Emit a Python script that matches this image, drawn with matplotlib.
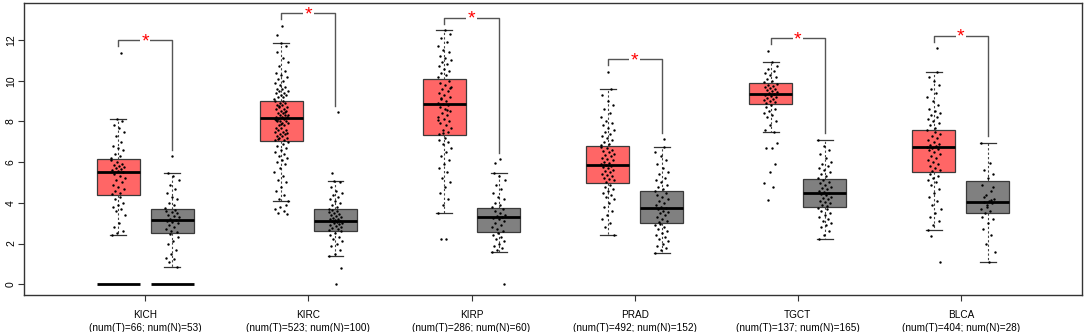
import numpy as np
import matplotlib.pyplot as plt

plt.rcParams['font.family'] = ['Liberation Sans', 'DejaVu Sans']

cancers = ['KICH', 'KIRC', 'KIRP', 'PRAD', 'TGCT', 'BLCA']
num_t = [66, 523, 286, 492, 137, 404]
num_n = [53, 100, 60, 152, 165, 28]

# box summaries: whisker low, q1, median, q3, whisker high
t_whislo = [2.42, 4.09, 3.52, 2.42, 7.50, 2.67]
t_q1 = [4.40, 7.04, 7.32, 4.96, 8.87, 5.50]
t_med = [5.52, 8.15, 8.86, 5.87, 9.36, 6.73]
t_q3 = [6.15, 9.02, 10.10, 6.81, 9.90, 7.56]
t_whishi = [8.12, 11.87, 12.47, 9.59, 10.90, 10.41]

n_whislo = [0.87, 1.39, 1.60, 1.55, 2.21, 1.11]
n_q1 = [2.50, 2.63, 2.55, 3.00, 3.81, 3.49]
n_med = [3.14, 3.11, 3.29, 3.75, 4.50, 4.06]
n_q3 = [3.70, 3.68, 3.76, 4.58, 5.17, 5.09]
n_whishi = [5.48, 5.09, 5.48, 6.76, 7.09, 6.96]

# groups that also show a flat bar at zero
zero_bar = ['KICH']

# jittered sample points
kich_t = [6.2, 6.3, 6.4, 6.6, 6.7, 6.8, 7.0, 7.3, 7.5, 7.7, 7.8, 8.0, 8.12,
          4.45, 4.5, 4.6, 4.7, 4.8, 4.9, 5.0, 5.1, 5.2, 5.3, 5.4, 5.5, 5.55, 5.6,
          5.65, 5.7, 5.75, 5.8, 5.85, 5.9, 6.0, 6.1,
          4.3, 4.2, 4.0, 3.9, 3.8, 3.7, 3.6, 3.4, 3.0, 2.8, 2.6, 2.5, 2.42, 11.37]
kich_n = [3.75, 3.9, 4.0, 4.2, 4.3, 4.5, 4.7, 4.9, 5.1, 5.3, 5.48,
          2.55, 2.6, 2.7, 2.8, 2.9, 3.0, 3.05, 3.1, 3.15, 3.2, 3.3, 3.35, 3.4,
          3.5, 3.55, 3.6, 3.65,
          2.45, 2.3, 2.1, 2.0, 1.7, 1.5, 1.3, 1.25, 1.1, 0.87, 6.29]
kirc_t = [9.1, 9.2, 9.2, 9.3, 9.3, 9.4, 9.4, 9.5, 9.5, 9.6, 9.6, 9.7, 9.8, 9.9,
          10.0, 10.1, 10.2, 10.3, 10.4, 10.5, 10.7, 10.9, 11.1, 11.4, 11.7, 11.87,
          7.1, 7.1, 7.2, 7.2, 7.3, 7.3, 7.4, 7.4, 7.5, 7.5, 7.6, 7.6, 7.7, 7.7,
          7.8, 7.8, 7.9, 7.9, 8.0, 8.0, 8.0, 8.1, 8.1, 8.1, 8.2, 8.2, 8.2, 8.3,
          8.3, 8.3, 8.4, 8.4, 8.5, 8.5, 8.6, 8.6, 8.7, 8.7, 8.8, 8.8, 8.9, 8.9,
          9.0, 9.0, 7.15, 7.45, 7.85, 8.05, 8.45, 8.75,
          7.0, 6.9, 6.8, 6.7, 6.6, 6.5, 6.4, 6.3, 6.2, 6.1, 6.0, 5.9, 5.7, 5.5,
          5.3, 5.1, 5.0, 4.8, 4.6, 4.4, 4.2, 4.09,
          12.70, 12.26, 3.9, 3.8, 3.7, 3.6, 3.5, 3.45]
kirc_n = [3.7, 3.8, 3.9, 4.0, 4.1, 4.2, 4.3, 4.4, 4.5, 4.6, 4.8, 5.0, 5.09,
          2.65, 2.7, 2.75, 2.8, 2.85, 2.9, 2.95, 3.0, 3.0, 3.05, 3.1, 3.1, 3.15,
          3.2, 3.2, 3.25, 3.3, 3.35, 3.4, 3.45, 3.5, 3.55, 3.6, 3.65,
          2.6, 2.5, 2.4, 2.3, 2.2, 2.1, 2.0, 1.9, 1.7, 1.5, 1.39,
          8.46, 5.47, 0.82, 0.0]
kirp_t = [10.2, 10.3, 10.4, 10.5, 10.6, 10.7, 10.8, 10.9, 11.0, 11.1, 11.2, 11.4,
          11.5, 11.7, 11.9, 12.1, 12.3, 12.47,
          7.4, 7.5, 7.6, 7.7, 7.8, 7.9, 8.0, 8.1, 8.2, 8.3, 8.4, 8.5, 8.6, 8.7,
          8.8, 8.85, 8.9, 9.0, 9.1, 9.2, 9.3, 9.4, 9.5, 9.6, 9.7, 9.8, 9.9, 10.0,
          7.45, 8.05, 8.55, 9.15, 9.65,
          7.2, 7.1, 7.0, 6.9, 6.7, 6.5, 6.3, 6.1, 5.9, 5.7, 5.5, 5.2, 5.0, 4.8,
          4.5, 4.2, 3.9, 3.52, 2.24, 2.24]
kirp_n = [3.8, 3.9, 4.0, 4.2, 4.3, 4.5, 4.7, 4.9, 5.1, 5.3, 5.48,
          2.6, 2.7, 2.8, 2.9, 3.0, 3.1, 3.2, 3.25, 3.3, 3.35, 3.4, 3.5, 3.6, 3.7,
          2.5, 2.4, 2.3, 2.2, 2.1, 2.0, 1.9, 1.8, 1.7, 1.6,
          6.15, 5.96, 0.0]
prad_t = [6.85, 6.9, 7.0, 7.1, 7.2, 7.3, 7.4, 7.5, 7.6, 7.7, 7.8, 7.9, 8.0, 8.2,
          8.4, 8.6, 8.8, 9.0, 9.3, 9.59,
          5.0, 5.1, 5.15, 5.2, 5.3, 5.35, 5.4, 5.5, 5.55, 5.6, 5.7, 5.75, 5.8,
          5.85, 5.9, 5.95, 6.0, 6.1, 6.15, 6.2, 6.3, 6.35, 6.4, 6.5, 6.55, 6.6,
          6.7, 6.75,
          4.9, 4.8, 4.7, 4.6, 4.5, 4.4, 4.3, 4.2, 4.0, 3.8, 3.6, 3.4, 3.2, 3.0,
          2.8, 2.42, 10.43]
prad_n = [4.6, 4.7, 4.8, 4.9, 5.0, 5.1, 5.2, 5.4, 5.5, 5.7, 5.9, 6.1, 6.3, 6.5,
          6.76,
          3.05, 3.1, 3.2, 3.3, 3.4, 3.5, 3.55, 3.6, 3.7, 3.75, 3.8, 3.9, 4.0, 4.1,
          4.2, 4.3, 4.4, 4.5,
          2.95, 2.9, 2.8, 2.7, 2.6, 2.5, 2.4, 2.3, 2.2, 2.1, 2.0, 1.9, 1.8, 1.7,
          1.55, 7.12]
tgct_t = [9.95, 10.0, 10.1, 10.2, 10.3, 10.4, 10.5, 10.6, 10.7, 10.9,
          8.9, 8.95, 9.0, 9.05, 9.1, 9.15, 9.2, 9.25, 9.3, 9.35, 9.4, 9.45, 9.5,
          9.55, 9.6, 9.65, 9.7, 9.75, 9.8, 9.85,
          8.8, 8.7, 8.6, 8.5, 8.4, 8.3, 8.2, 8.0, 7.8, 7.6, 7.5,
          11.47, 6.96, 6.71, 6.71, 5.91, 5.50, 4.96, 4.79, 4.12]
tgct_n = [5.2, 5.3, 5.4, 5.5, 5.6, 5.7, 5.8, 5.9, 6.0, 6.2, 6.4, 6.6, 6.8, 7.09,
          3.85, 3.9, 4.0, 4.05, 4.1, 4.2, 4.25, 4.3, 4.4, 4.45, 4.5, 4.55, 4.6,
          4.7, 4.75, 4.8, 4.9, 4.95, 5.0, 5.1,
          3.75, 3.7, 3.6, 3.5, 3.4, 3.3, 3.2, 3.1, 3.0, 2.9, 2.8, 2.6, 2.4, 2.21]
blca_t = [7.6, 7.7, 7.8, 7.9, 8.0, 8.1, 8.2, 8.3, 8.4, 8.5, 8.6, 8.8, 9.0, 9.2,
          9.4, 9.6, 9.8, 10.0, 10.2, 10.41,
          5.55, 5.6, 5.7, 5.8, 5.9, 6.0, 6.1, 6.2, 6.3, 6.4, 6.5, 6.6, 6.65, 6.7,
          6.75, 6.8, 6.85, 6.9, 7.0, 7.1, 7.2, 7.3, 7.4, 7.5,
          5.4, 5.3, 5.2, 5.1, 5.0, 4.9, 4.7, 4.5, 4.3, 4.1, 3.9, 3.7, 3.5, 3.3,
          3.1, 2.9, 2.67, 11.59, 2.37, 1.11]
blca_n = [6.96, 5.95, 5.6, 5.4, 5.2, 4.9, 4.6, 4.4, 4.2, 4.1, 4.05, 4.0, 3.9,
          3.7, 3.6, 3.5, 3.2, 3.0, 2.7, 2.4, 2.0, 1.6, 1.11, 4.3, 4.8, 3.8, 3.3,
          4.15]

tumor_pts = [kich_t, kirc_t, kirp_t, prad_t, tgct_t, blca_t]
normal_pts = [kich_n, kirc_n, kirp_n, prad_n, tgct_n, blca_n]

red = '#FF6666'
grey = '#808080'
off = 0.166
bw = 0.264

fig = plt.figure(figsize=(10.84, 3.32), dpi=100)
ax = fig.add_axes([0.0224, 0.1114, 0.9755, 0.8796])

def stats(lo, q1, med, q3, hi):
    return [dict(whislo=a, q1=b, med=c, q3=d, whishi=e, fliers=[])
            for a, b, c, d, e in zip(lo, q1, med, q3, hi)]

x = np.arange(len(cancers))
for st, pos, col in [(stats(t_whislo, t_q1, t_med, t_q3, t_whishi), x - off, red),
                     (stats(n_whislo, n_q1, n_med, n_q3, n_whishi), x + off, grey)]:
    ax.bxp(st, positions=pos, widths=bw, patch_artist=True, showfliers=False,
           capwidths=bw * 0.37, manage_ticks=False,
           boxprops=dict(facecolor=col, edgecolor='#3a3a3a', linewidth=0.9),
           medianprops=dict(color='black', linewidth=2),
           whiskerprops=dict(color='#444444', linewidth=0.8, linestyle=(0, (2, 2))),
           capprops=dict(color='#333333', linewidth=0.9))

for i, c in enumerate(cancers):
    if c in zero_bar:
        for p in (i - off, i + off):
            ax.hlines(0, p - bw / 2, p + bw / 2, color='black', lw=2, zorder=3)

# jittered points
for i in range(len(cancers)):
    for pts, p in ((tumor_pts[i], i - off), (normal_pts[i], i + off)):
        k = np.arange(len(pts))
        jit = ((k * 0.618034) % 1 - 0.5) * 0.085
        ax.scatter(p + jit, pts, s=3, color='black', lw=0, zorder=4)

# significance brackets
for i in range(len(cancers)):
    tmax = max(tumor_pts[i])
    nmax = max(normal_pts[i])
    top = max(tmax, nmax) + 0.63
    xl, xr = i - off, i + off
    ax.plot([xl, xl, xr, xr], [tmax + 0.32, top, top, nmax + 0.32],
            color='#555555', lw=1, zorder=2)
    ax.text(i, top - 0.08, '*', color='red', fontsize=14, ha='center', va='center',
            zorder=5, bbox=dict(facecolor='white', edgecolor='none', pad=1.0))

ax.set_xlim(-0.742, 5.741)
ax.set_ylim(-0.53, 13.82)
ax.set_yticks([0, 2, 4, 6, 8, 10, 12])
ax.set_yticklabels(['0', '2', '4', '6', '8', '10', '12'], rotation=90, va='center',
                   fontsize=7.5)
ax.set_xticks(x)
ax.set_xticklabels(['%s\n(num(T)=%d; num(N)=%d)' % (c, t, n)
                    for c, t, n in zip(cancers, num_t, num_n)], fontsize=7.2,
                   linespacing=1.35)
ax.tick_params(length=4, width=0.8, color='#333333', pad=2)
ax.tick_params(axis='x', pad=7)
for s in ax.spines.values():
    s.set_color('#333333')
    s.set_linewidth(1)

fig.savefig('out.png', dpi=100)
